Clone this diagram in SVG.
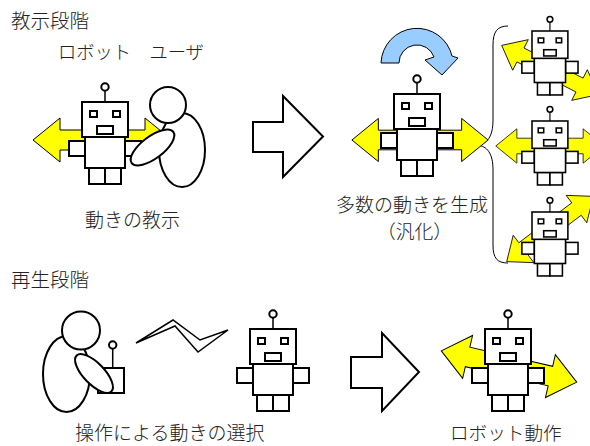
<svg xmlns="http://www.w3.org/2000/svg" xmlns:xlink="http://www.w3.org/1999/xlink" width="590" height="446" viewBox="0 0 590 446">
  <style>
    .lbl { font-family: "Noto Sans CJK JP", "Noto Sans", sans-serif; font-weight: 300; fill: #222; }
    .rb { fill: #fff; stroke: #000; stroke-width: 2; }
    .yl { fill: #ffff00; stroke: #000; stroke-width: 1; stroke-linejoin: miter; }
    .hollow { fill: #fff; stroke: #000; stroke-width: 2; stroke-linejoin: miter; }
    .person { fill: #fff; stroke: #000; stroke-width: 2; }
  </style>
  <defs>
    <!-- robot, origin at the top-left corner of the head -->
    <g id="robot">
      <line x1="23" y1="-11.5" x2="23" y2="0" stroke="#000" stroke-width="1.5"/>
      <circle class="rb" cx="23" cy="-15" r="3.7" stroke-width="1.5"/>
      <rect class="rb" x="-13" y="39" width="16" height="15"/>
      <rect class="rb" x="43" y="39" width="16" height="15"/>
      <rect class="rb" x="7" y="66" width="16" height="16"/>
      <rect class="rb" x="23" y="66" width="16" height="16"/>
      <rect class="rb" x="3" y="35" width="40" height="31"/>
      <rect class="rb" x="0" y="0" width="46" height="35"/>
      <rect class="rb" x="8" y="9" width="7" height="6"/>
      <rect class="rb" x="31" y="9" width="7" height="6"/>
      <rect class="rb" x="15" y="24" width="16" height="8"/>
    </g>
    <!-- yellow double-headed arrow, centred on the origin -->
    <path id="dbl" class="yl" d="M-69.5,0 L-42.5,-22 L-42.5,-10 L42.5,-10 L42.5,-22 L69.5,0 L42.5,22 L42.5,10 L-42.5,10 L-42.5,22 Z"/>
  </defs>

  <!-- section titles and captions -->
  <g id="labels">
    <text class="lbl" x="11" y="28" font-size="19.5">教示段階</text>
    <text class="lbl" x="58" y="59" font-size="18.3">ロボット　ユーザ</text>
    <text class="lbl" x="85" y="227" font-size="19">動きの教示</text>
    <text class="lbl" x="336" y="212" font-size="19">多数の動きを生成</text>
    <text class="lbl" x="377" y="239" font-size="18.8">（汎化）</text>
    <text class="lbl" x="11" y="287" font-size="19.5">再生段階</text>
    <text class="lbl" x="75" y="440" font-size="19">操作による動きの選択</text>
    <text class="lbl" x="450" y="440" font-size="18.6">ロボット動作</text>
  </g>

  <!-- teaching: robot guided by the user -->
  <g id="teach-robot">
    <use xlink:href="#dbl" transform="translate(102.5,140)"/>
    <use xlink:href="#robot" transform="translate(82,102)"/>
  </g>
  <g id="teach-user">
    <ellipse class="person" cx="182" cy="150" rx="23" ry="37"/>
    <circle class="person" cx="168" cy="105" r="18"/>
    <ellipse class="person" cx="152.5" cy="147.5" rx="26" ry="11" transform="rotate(-37 152.5 147.5)"/>
  </g>

  <g id="connectors">
    <!-- process arrows -->
    <path class="hollow" d="M253,122 L283,122 L283,96 L323,136.5 L283,177 L283,152 L253,152 Z"/>
    <path class="hollow" d="M351,357 L382,357 L382,333 L419,372 L382,411 L382,388 L351,388 Z"/>
    <!-- rotation arrow above the generalised robot -->
    <path d="M381,63 A36,36 0 0 1 452,56 L458,58 L442,75 L425,60 L434,57 A18,18 0 0 0 399,63 Z" fill="#99ccff" stroke="#000" stroke-width="1"/>
    <!-- brace grouping the generated motions -->
    <path d="M508,26 C497,26 493,32 493,45 L493,120 C493,137 487,144 477,145 C487,146 493,153 493,170 L493,245 C493,258 497,263 508,263" fill="none" stroke="#000" stroke-width="1"/>
    <!-- radio signal -->
    <path d="M136,343 L173,320 L200,340 L228,330 L198,352 L175,326 Z" fill="#fff" stroke="#000" stroke-width="1.5" stroke-linejoin="miter"/>
  </g>

  <!-- generalisation -->
  <g id="gen-robot">
    <use xlink:href="#dbl" transform="translate(420,140) scale(0.98)"/>
    <use xlink:href="#robot" transform="translate(394,94)"/>
  </g>
  <g id="gen-1">
    <use xlink:href="#dbl" transform="translate(550,70) rotate(27) scale(0.78)"/>
    <use xlink:href="#robot" transform="translate(532,31) scale(0.78)"/>
  </g>
  <g id="gen-2">
    <use xlink:href="#dbl" transform="translate(550,146) scale(0.78)"/>
    <use xlink:href="#robot" transform="translate(532,121) scale(0.78)"/>
  </g>
  <g id="gen-3">
    <use xlink:href="#dbl" transform="translate(550,229) rotate(-37) scale(0.78)"/>
    <use xlink:href="#robot" transform="translate(532,212) scale(0.78)"/>
  </g>

  <!-- playback: operator with remote controller -->
  <g id="operator">
    <ellipse class="person" cx="66.5" cy="374" rx="23.5" ry="38"/>
    <circle class="person" cx="81" cy="330.5" r="19"/>
    <line x1="112.7" y1="348" x2="112.7" y2="368" stroke="#000" stroke-width="1.5"/>
    <circle class="rb" cx="112.7" cy="345" r="3.7" stroke-width="1.5"/>
    <rect class="rb" x="98" y="368" width="26" height="25"/>
    <ellipse class="person" cx="94" cy="373.5" rx="25" ry="10.5" transform="rotate(46 94 373.5)"/>
  </g>
  <g id="play-robot">
    <use xlink:href="#robot" transform="translate(250,329)"/>
  </g>
  <g id="result-robot">
    <use xlink:href="#dbl" transform="translate(509,366.5) rotate(13)"/>
    <use xlink:href="#robot" transform="translate(485,329)"/>
  </g>
</svg>
